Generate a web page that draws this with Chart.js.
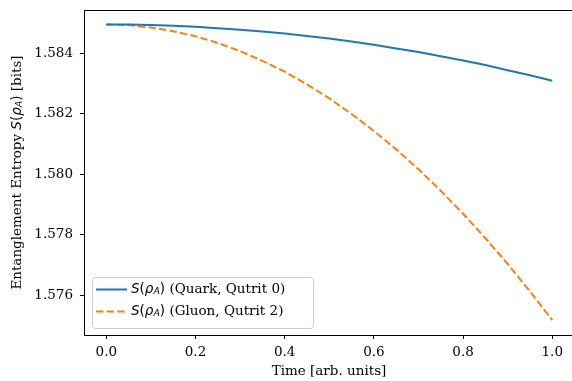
<!DOCTYPE html>
<html>
<head>
<meta charset="utf-8">
<script src="https://cdn.jsdelivr.net/npm/chart.js@4.4.0/dist/chart.umd.min.js"></script>
<style>
  body { margin: 0; background: #fff; }
  #wrap { width: 572px; height: 381px; }
</style>
</head>
<body>
<div id="wrap"><canvas id="myChart" width="572" height="381"></canvas></div>
<script>
// values
const times = [0, 0.05, 0.1, 0.15, 0.2, 0.25, 0.3, 0.35, 0.4, 0.45, 0.5,
               0.55, 0.6, 0.65, 0.7, 0.75, 0.8, 0.85, 0.9, 0.95, 1.0];
const quarkS = [1.58495, 1.58495, 1.58493, 1.58491, 1.58488, 1.58483, 1.58478,
                1.58472, 1.58465, 1.58457, 1.58449, 1.58439, 1.58428, 1.58416,
                1.58404, 1.58390, 1.58376, 1.58361, 1.58344, 1.58327, 1.58309];
const gluonS = [1.58495, 1.58493, 1.58485, 1.58473, 1.58456, 1.58434, 1.58407,
                1.58375, 1.58339, 1.58297, 1.58251, 1.58199, 1.58143, 1.58082,
                1.58016, 1.57945, 1.57869, 1.57788, 1.57703, 1.57612, 1.57517];
const xTicks = [0, 0.2, 0.4, 0.6, 0.8, 1.0];
const yTicks = [1.576, 1.578, 1.580, 1.582, 1.584];

const serif = "'DejaVu Serif', 'Liberation Serif', serif";
const mathFont = "'DejaVu Sans', sans-serif";
const fs = 13.5;

// mixed text: plain serif, math italic and subscript pieces
function richParts(rest) {
    return [
        { t: 'S', f: 'italic ' + fs + 'px ' + mathFont, dy: 0 },
        { t: '(', f: fs + 'px ' + mathFont, dy: 0 },
        { t: 'ρ', f: 'italic ' + fs + 'px ' + mathFont, dy: 0 },
        { t: 'A', f: 'italic ' + (fs * 0.7) + 'px ' + mathFont, dy: 3 },
        { t: ')', f: fs + 'px ' + mathFont, dy: 0 },
        { t: rest, f: fs + 'px ' + serif, dy: 0 }
    ];
}

function drawRich(c, parts, x, y, align) {
    let w = 0;
    parts.forEach(p => { c.font = p.f; w += c.measureText(p.t).width; });
    let cx = align === 'center' ? x - w / 2 : x;
    c.textBaseline = 'middle';
    c.textAlign = 'left';
    parts.forEach(p => {
        c.font = p.f;
        c.fillText(p.t, cx, y + p.dy);
        cx += c.measureText(p.t).width;
    });
}

const decor = {
    id: 'decor',
    afterDatasetsDraw(chart) {
        const c = chart.ctx;
        const a = chart.chartArea;
        c.save();
        // top spine, runs off the right edge like the picture
        c.strokeStyle = '#000';
        c.lineWidth = 1;
        c.beginPath(); c.moveTo(a.left, a.top + 0.5); c.lineTo(572, a.top + 0.5); c.stroke();

        // legend
        const lx = 92, ly = 277, lw = 221, lh = 51;
        c.beginPath();
        c.roundRect(lx + 0.5, ly + 0.5, lw, lh, 3);
        c.fillStyle = 'rgba(255,255,255,0.8)';
        c.fill();
        c.strokeStyle = '#cccccc';
        c.stroke();

        c.lineWidth = 2;
        c.strokeStyle = '#1f77b4';
        c.beginPath(); c.moveTo(96, 289.5); c.lineTo(127, 289.5); c.stroke();
        c.strokeStyle = '#ff7f0e';
        c.setLineDash([7.4, 3.2]);
        c.beginPath(); c.moveTo(96, 311.5); c.lineTo(127, 311.5); c.stroke();
        c.setLineDash([]);

        c.fillStyle = '#000';
        drawRich(c, richParts(' (Quark, Qutrit 0)'), 131, 289, 'left');
        drawRich(c, richParts(' (Gluon, Qutrit 2)'), 131, 311, 'left');

        // axis titles
        c.font = fs + 'px ' + serif;
        c.textAlign = 'center';
        c.textBaseline = 'middle';
        c.fillText('Time [arb. units]', 329, 371);

        c.translate(17, (a.top + a.bottom) / 2);
        c.rotate(-Math.PI / 2);
        drawRich(c, [{ t: 'Entanglement Entropy ', f: fs + 'px ' + serif, dy: 0 }]
            .concat(richParts(' [bits]')), 0, 0, 'center');
        c.restore();
    }
};

const ctx = document.getElementById('myChart').getContext('2d');
const myChart = new Chart(ctx, {
    type: 'line',
    data: {
        datasets: [{
            label: 'Quark, Qutrit 0',
            data: times.map((t, i) => ({ x: t, y: quarkS[i] })),
            borderColor: '#1f77b4',
            borderWidth: 2,
            pointRadius: 0,
            tension: 0,
            fill: false
        },
        {
            label: 'Gluon, Qutrit 2',
            data: times.map((t, i) => ({ x: t, y: gluonS[i] })),
            borderColor: '#ff7f0e',
            borderWidth: 2,
            borderDash: [7.4, 3.2],
            pointRadius: 0,
            tension: 0,
            fill: false
        }]
    },
    options: {
        responsive: false,
        animation: false,
        layout: { padding: { top: 10, right: 1, left: 0, bottom: 0 } },
        plugins: {
            legend: { display: false },
            tooltip: { enabled: false }
        },
        scales: {
            x: {
                type: 'linear',
                min: -0.05,
                max: 1.042,
                afterBuildTicks: s => { s.ticks = xTicks.map(v => ({ value: v })); },
                afterFit: s => { s.height = 46; s.paddingLeft = 0; s.paddingRight = 0; },
                ticks: {
                    color: '#000',
                    padding: 5,
                    maxRotation: 0,
                    font: { family: serif, size: fs },
                    callback: v => Number(v).toFixed(1)
                },
                grid: { drawOnChartArea: false, drawTicks: true, tickLength: 4, color: '#000' },
                border: { display: true, color: '#000', width: 1 }
            },
            y: {
                type: 'linear',
                min: 1.57468,
                max: 1.58543,
                afterBuildTicks: s => { s.ticks = yTicks.map(v => ({ value: v })); },
                afterFit: s => { s.width = 84; s.paddingTop = 0; s.paddingBottom = 0; },
                ticks: {
                    color: '#000',
                    padding: 7,
                    font: { family: serif, size: fs },
                    callback: v => Number(v).toFixed(3)
                },
                grid: { drawOnChartArea: false, drawTicks: true, tickLength: 4, color: '#000' },
                border: { display: true, color: '#000', width: 1 }
            }
        }
    },
    plugins: [decor]
});
</script>
</body>
</html>
